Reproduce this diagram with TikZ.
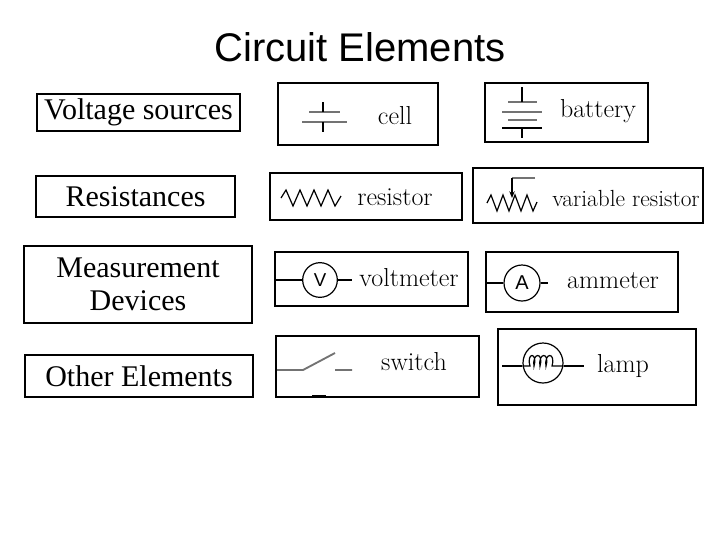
\documentclass[tikz,border=0pt]{standalone}
\usepackage{fontspec}
\newfontfamily\arialf{Liberation Sans}
\newfontfamily\timesf{Liberation Serif}
\usetikzlibrary{arrows.meta}
\begin{document}
\begin{tikzpicture}[x=0.75pt,y=-0.75pt,
  box/.style={draw=black,line width=1.8pt},
  cat/.style={font=\timesf\fontsize{22.5}{25}\selectfont,align=center},
  lab/.style={font=\fontsize{19.5}{21}\selectfont},
  sym/.style={draw=black!55,line width=1.1pt},
  symk/.style={draw=black,line width=0.9pt}]
\useasboundingbox (0,0) rectangle (720,540);
\node[font=\arialf\fontsize{30}{33}\selectfont] (title) at (360,47) {Circuit Elements};
% left category boxes
\draw[box] (37,94) rectangle (240,131);
\node[cat] (vs) at (138.5,112.5) {Voltage sources};
\draw[box] (36,176) rectangle (235,217);
\node[cat] (rs) at (135.5,196.5) {Resistances};
\draw[box] (24,246) rectangle (252,323);
\node[cat] (md) at (138,284.5) {Measurement\\Devices};
\draw[box] (25,355) rectangle (253,397);
\node[cat] (oe) at (139,376) {Other Elements};
% cell
\draw[box] (278,83) rectangle (438,145);
\draw[sym] (302,122) -- (347,122) (309,112) -- (340,112);
\draw[symk] (323,102) -- (323,112) (323,122) -- (323,132);
\node[lab] (cell) at (395,116) {cell};
% battery
\draw[box] (485,83) rectangle (648,142);
\draw[sym] (508,102) -- (537,102) (502,112) -- (542,112) (508,120) -- (537,120);
\draw[symk,line width=1.3pt] (502,128) -- (542,128);
\draw[symk] (522,87) -- (522,102) (522,128) -- (522,138);
\node[lab] (batt) at (598,111) {battery};
% resistor
\draw[box] (270,173) rectangle (462,220);
\draw[symk] (281,198) -- (286,190) -- (293,206) -- (300,190) -- (307,206) -- (314,190) -- (321,206) -- (328,190) -- (335,206) -- (341,196);
\node[lab] (res) at (395,197) {resistor};
% variable resistor
\draw[box] (473,168) rectangle (703,223);
\draw[symk] (487,203) -- (491,195) -- (497,211) -- (503,195) -- (509,211) -- (515,195) -- (521,211) -- (527,195) -- (533,211) -- (537,202);
\draw[sym] (535,178) -- (512,178);
\draw[symk,-{Stealth[length=5pt,width=4pt]}] (512,178) -- (512,198);
\node[lab,font=\fontsize{17.5}{20}\selectfont] (vres) at (626,198) {variable resistor};
% voltmeter
\draw[box] (275,252) rectangle (468,306);
\node[symk,circle,minimum size=26pt,inner sep=0pt,font=\arialf\fontsize{14}{15}\selectfont] (vm) at (320,280) {V};
\coordinate (vmL) at (275,280); \coordinate (vmR) at (352,280);
\draw[symk] (vmL) -- (vm.west) (vm.east) -- (vmR);
\node[lab] (volt) at (409,278) {voltmeter};
% ammeter
\draw[box] (486,252) rectangle (678,312);
\node[symk,circle,minimum size=27pt,inner sep=0pt,font=\arialf\fontsize{15}{16}\selectfont] (am) at (522,283) {A};
\coordinate (amL) at (487,283); \coordinate (amR) at (548,283);
\draw[symk] (amL) -- (am.west) (am.east) -- (amR);
\node[lab] (amm) at (613,281) {ammeter};
% switch
\draw[box] (276,336) rectangle (479,397);
\draw[sym,line width=1.4pt] (277,370) -- (303,370) -- (335,353) (335,370) -- (352,370);
\draw[symk,line width=1.3pt] (312,396) -- (326,396);
\node[lab] (sw) at (414,362) {switch};
% lamp
\draw[box] (498,329) rectangle (696,405);
\node[symk,circle,minimum size=30pt,inner sep=0pt] (lp) at (543,363) {};
\coordinate (lpL) at (502,366); \coordinate (lpR) at (584,366);
\draw[symk] (lpL) -- (lp.west |- lpL);
\draw[symk] (lp.east |- lpR) -- (lpR);
\draw[symk] (lp.west |- lpL) -- (530,366)
  .. controls (526,352) and (538,352) .. (534,366)
  .. controls (532,352) and (544,352) .. (540,366)
  .. controls (538,352) and (550,352) .. (546,366)
  .. controls (544,352) and (556,352) .. (552,366) -- (lp.east |- lpR);
\node[lab] (lamp) at (623,366) {lamp};
\end{tikzpicture}
\end{document}
